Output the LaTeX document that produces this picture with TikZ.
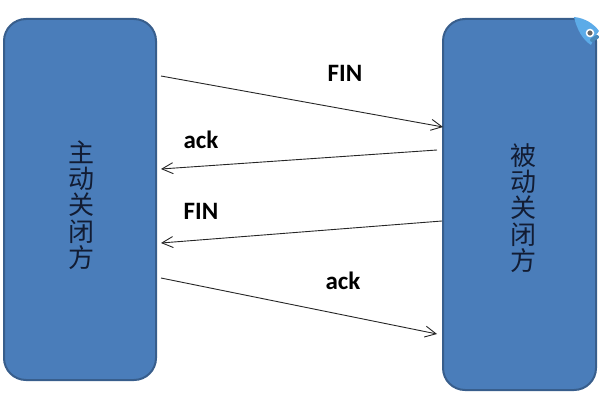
\documentclass[tikz,border=0pt]{standalone}
\usepackage{fontspec}
\setmainfont{Carlito}
\newfontfamily\cjk{Noto Sans CJK SC}
\usetikzlibrary{arrows.meta, positioning}
\definecolor{BoxBlue}{rgb}{0.29, 0.49, 0.73}
\definecolor{EdgeBlue}{rgb}{0.22, 0.37, 0.55}
\definecolor{TagBlue}{rgb}{0.36, 0.67, 0.91}
\definecolor{TextDark}{rgb}{0.07, 0.11, 0.2}

\begin{document}
\begin{tikzpicture}[
    x=1pt, y=-1pt,
    side/.style={draw=EdgeBlue, line width=2pt, rounded corners=22pt,
        fill=BoxBlue},
    sidetext/.style={text=TextDark, align=center, inner sep=0pt,
        font=\cjk\fontsize{26}{26.2}\selectfont},
    flow/.style={-{Straight Barb[length=11pt,width=11pt]}, line width=0.9pt, black!85},
    lbl/.style={font=\bfseries\fontsize{25}{28}\selectfont, inner sep=0pt},
]
\useasboundingbox (0,0) rectangle (599,401);

% cajas
\node[side, minimum width=152pt, minimum height=361pt] (active) at (80,199.5) {};
\node[side, minimum width=153pt, minimum height=371pt] (passive) at (519.5,204.5) {};
\node[sidetext] (activetext) at (81,205) {主\\动\\关\\闭\\方};
\node[sidetext] (passivetext) at (523,208) {被\\动\\关\\闭\\方};

% extremos de las flechas
\coordinate (f1s) at (161,76);
\coordinate (f1e) at (443,127);
\coordinate (a1s) at (437,150);
\coordinate (a1e) at (161,169);
\coordinate (f2s) at (442,221);
\coordinate (f2e) at (161,243);
\coordinate (a2s) at (161,278);
\coordinate (a2e) at (437,334);
\foreach \p/\q in {f1s/f1e,a1s/a1e,f2s/f2e,a2s/a2e} \draw[flow] (\p)--(\q);

% etiquetas
\node[lbl] (fin1) at (345,73)  {FIN};
\node[lbl] (ack1) at (201,140) {ack};
\node[lbl] (fin2) at (201,211) {FIN};
\node[lbl] (ack2) at (343,281) {ack};

% marca en la esquina
\fill[TagBlue] (574,17) .. controls (585,18) and (594,24) .. (599,31)
    .. controls (596,35) and (593,40) .. (591,45)
    .. controls (583,40) and (577,30) .. (574,17) -- cycle;
\draw[white, line width=1.5pt, fill=black!60] (590,33) circle (3.5pt);
\draw[TagBlue!80!black, line width=4pt, line cap=round] (592,40) -- (597,37);

\end{tikzpicture}
\end{document}
